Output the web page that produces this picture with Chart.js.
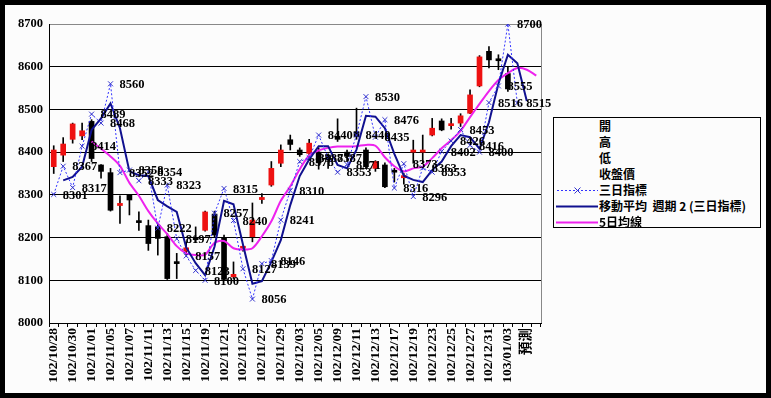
<!DOCTYPE html>
<html>
<head>
<meta charset="utf-8">
<script src="https://cdn.jsdelivr.net/npm/chart.js@4.4.0/dist/chart.umd.min.js"></script>
<style>
  html, body { margin: 0; padding: 0; }
  body { width: 771px; height: 398px; overflow: hidden; background: #000; position: relative; }
  #frame { position: absolute; left: 5px; top: 5px; width: 761px; height: 388px; background: #fcfcfc; }
  #chart { position: absolute; left: 0; top: 0; }
  #legend { position: absolute; left: 553px; top: 117px; width: 208px; height: 111px; box-sizing: border-box;
            border: 1px solid #000; background: #fcfcfc; font-family: "Noto Sans CJK TC", sans-serif;
            font-size: 12px; font-weight: bold; color: #000; }
  #legend .row { position: absolute; left: 0; width: 206px; height: 16px; line-height: 16px; }
  #legend .txt { position: absolute; left: 45px; top: 0; white-space: nowrap; }
  #legend svg { position: absolute; left: 1px; top: 0; }
</style>
</head>
<body>
<div id="frame"></div>
<canvas id="chart" width="771" height="398"></canvas>
<div id="legend">
  <div class="row" style="top:0px"><span class="txt">開</span></div>
  <div class="row" style="top:16px"><span class="txt">高</span></div>
  <div class="row" style="top:32px"><span class="txt">低</span></div>
  <div class="row" style="top:48px"><span class="txt">收盤價</span></div>
  <div class="row" style="top:64px">
    <svg width="44" height="16"><line x1="2" y1="8.5" x2="43" y2="8.5" stroke="#3333ff" stroke-width="1" stroke-dasharray="2,2"/>
      <path d="M19.5 5.5 L25.5 11.5 M25.5 5.5 L19.5 11.5" stroke="#3333cc" stroke-width="1"/></svg>
    <span class="txt">三日指標</span></div>
  <div class="row" style="top:80px">
    <svg width="44" height="16"><line x1="1" y1="8.5" x2="43" y2="8.5" stroke="#10108f" stroke-width="2"/></svg>
    <span class="txt">移動平均&nbsp;&nbsp;週期 2 (三日指標)</span></div>
  <div class="row" style="top:96px">
    <svg width="44" height="16"><line x1="1" y1="8.5" x2="43" y2="8.5" stroke="#ee22ee" stroke-width="2"/></svg>
    <span class="txt">5日均線</span></div>
</div>
<script>
// 日期 (每兩個顯示一個)
const categories = ['102/10/28','102/10/29','102/10/30','102/10/31','102/11/01','102/11/04','102/11/05','102/11/06',
  '102/11/07','102/11/08','102/11/11','102/11/12','102/11/13','102/11/14','102/11/15','102/11/18','102/11/19',
  '102/11/20','102/11/21','102/11/22','102/11/25','102/11/26','102/11/27','102/11/28','102/11/29','102/12/02',
  '102/12/03','102/12/04','102/12/05','102/12/06','102/12/09','102/12/10','102/12/11','102/12/12','102/12/13',
  '102/12/16','102/12/17','102/12/18','102/12/19','102/12/20','102/12/23','102/12/24','102/12/25','102/12/26',
  '102/12/27','102/12/30','102/12/31','103/01/02','103/01/03','103/01/06','預測',''];

// 開高低收
const openPrices = [8366,8393,8430,8438,8472,8370,8352,8275,8299,8237,8228,8225,8202,8141,8168,8200,8217,8255,8200,8108,
  8175,8202,8289,8323,8374,8429,8405,8397,8400,8393,8435,8400,8448,8405,8362,8370,8356,8340,8400,8400,8440,8473,8462,
  8468,8491,8555,8636,8618,8584,null,null,null];
const highPrices = [8415,8434,8468,8468,8476,8371,8362,8298,8300,8260,8241,8233,8210,8163,8190,8225,8262,8262,8206,8143,
  8180,8281,8303,8378,8417,8440,8410,8430,8410,8396,8478,8405,8503,8410,8380,8375,8362,8350,8428,8440,8479,8478,8479,
  8490,8546,8626,8647,8628,8600,null,null,null];
const lowPrices = [8350,8378,8421,8429,8378,8339,8262,8233,8253,8217,8170,8159,8102,8104,8160,8188,8215,8200,8100,8104,
  8168,8190,8280,8320,8366,8405,8390,8385,8360,8362,8425,8380,8430,8362,8355,8317,8330,8325,8374,8374,8438,8450,8454,
  8460,8490,8553,8597,8593,8542,null,null,null];
const closePrices = [8405,8419,8466,8450,8385,8355,8264,8280,8288,8235,8186,8198,8104,8139,8176,8195,8260,8206,8102,8114,
  8176,8241,8294,8362,8405,8418,8394,8421,8375,8382,8430,8390,8436,8366,8378,8319,8353,8345,8405,8405,8456,8452,8466,
  8485,8534,8623,8616,8614,8548,null,null,null];

// 三日指標
const threeDay = [8301,8367,8317,8414,8489,8468,8560,8352,8358,8333,8354,8222,8323,8197,8157,8123,8100,8257,8315,8240,
  8127,8056,8139,8146,8241,8310,8378,8387,8440,8387,8353,8371,8440,8530,8435,8476,8316,8373,8296,8363,8353,8402,8426,
  8453,8416,8400,8516,8555,8700,8515,null,null];

// 移動平均 週期 2 (三日指標)
const movingAvg2 = [null,8334,8342,8366,8452,8479,8514,8456,8355,8346,8344,8288,8273,8260,8177,8140,8112,8179,8286,8278,
  8184,8092,8098,8143,8194,8276,8344,8383,8414,8414,8370,8362,8406,8485,8483,8456,8396,8345,8335,8330,8358,8378,8414,
  8440,8435,8408,8470,8560,8628,8608,8520,null];

// 5日均線
const ma5 = [null,null,null,null,8425,8408,8390,8368,8328,8298,8262,8233,8208,8180,8163,8159,8160,8188,8192,8175,8172,
  8175,8203,8238,8286,8320,8360,8392,8404,8410,8413,8413,8414,8417,8415,8388,8367,8355,8362,8366,8386,8409,8428,8450,
  8482,8513,8543,8569,8585,8597,8593,8579];

const yTicks = [8000, 8100, 8200, 8300, 8400, 8500, 8600, 8700];

const bodies = openPrices.map((o, i) => o == null ? null : [o, closePrices[i]]);
const wicks = lowPrices.map((l, i) => l == null ? null : [l, highPrices[i]]);
const bodyColors = openPrices.map((o, i) => (o != null && closePrices[i] > o) ? '#ee1111' : '#000000');

// 三日指標 的數字標籤 + 繪圖區右框
const pointLabels = {
  id: 'pointLabels',
  beforeDatasetsDraw(chart) {
    const { ctx, chartArea } = chart;
    ctx.save();
    ctx.strokeStyle = '#888';
    ctx.lineWidth = 1;
    ctx.beginPath();
    ctx.moveTo(Math.round(chartArea.right) + 0.5, chartArea.top);
    ctx.lineTo(Math.round(chartArea.right) + 0.5, chartArea.bottom);
    ctx.stroke();
    ctx.restore();
  },
  afterDatasetsDraw(chart) {
    const meta = chart.getDatasetMeta(0);
    const ctx = chart.ctx;
    ctx.save();
    ctx.font = 'bold 12.5px "Liberation Serif"';
    ctx.fillStyle = '#000';
    ctx.textAlign = 'left';
    ctx.textBaseline = 'middle';
    meta.data.forEach((pt, i) => {
      if (threeDay[i] == null) return;
      ctx.fillText(String(threeDay[i]), pt.x + 9, pt.y + 1);
    });
    ctx.restore();
  }
};

const ctx = document.getElementById('chart').getContext('2d');
const myChart = new Chart(ctx, {
  type: 'bar',
  data: {
    labels: categories,
    datasets: [
      {
        type: 'line', label: '三日指標', data: threeDay,
        borderColor: '#3333ff', borderWidth: 1, borderDash: [2, 2],
        pointStyle: 'crossRot', pointRadius: 3.5, pointBorderColor: '#3333cc', pointBorderWidth: 1,
        fill: false, tension: 0, order: 0
      },
      {
        type: 'line', label: '移動平均 週期 2 (三日指標)', data: movingAvg2,
        borderColor: '#10108f', borderWidth: 2, pointRadius: 0, fill: false, tension: 0, order: 1
      },
      {
        type: 'line', label: '5日均線', data: ma5,
        borderColor: '#ee22ee', borderWidth: 2, pointRadius: 0, fill: false, tension: 0.3, order: 2
      },
      {
        type: 'bar', label: 'body', data: bodies, backgroundColor: bodyColors,
        barThickness: 5, minBarLength: 2, grouped: false, order: 3
      },
      {
        type: 'bar', label: 'wick', data: wicks, backgroundColor: '#000',
        barThickness: 1, grouped: false, order: 4
      }
    ]
  },
  options: {
    responsive: false,
    animation: false,
    layout: { padding: { left: 0, top: 24, right: 230, bottom: 0 } },
    plugins: { legend: { display: false }, tooltip: { enabled: false } },
    scales: {
      x: {
        ticks: {
          autoSkip: false, minRotation: 90, maxRotation: 90, padding: 1, color: '#000',
          font: { family: '"Liberation Serif", "Noto Sans CJK TC"', size: 13.5, weight: 'bold' },
          callback: (v, i) => (i % 2 === 0 ? categories[i] : '')
        },
        grid: { offset: true, drawOnChartArea: false, drawTicks: true, tickLength: 4, tickColor: '#000' },
        border: { color: '#000', width: 1 },
        afterFit: (scale) => { scale.height = 75; }
      },
      y: {
        min: yTicks[0], max: yTicks[yTicks.length - 1],
        afterBuildTicks: (scale) => { scale.ticks = yTicks.map(v => ({ value: v })); },
        ticks: {
          padding: 6, color: '#000',
          font: { family: '"Liberation Serif"', size: 12.5, weight: 'bold' },
          callback: (v) => String(v)
        },
        grid: { color: (c) => (c.tick && c.tick.value === 8700 ? '#888' : '#000'), drawTicks: false, lineWidth: 1 },
        border: { color: '#000', width: 1 },
        afterFit: (scale) => { scale.width = 49; }
      }
    }
  },
  plugins: [pointLabels]
});
</script>
</body>
</html>
